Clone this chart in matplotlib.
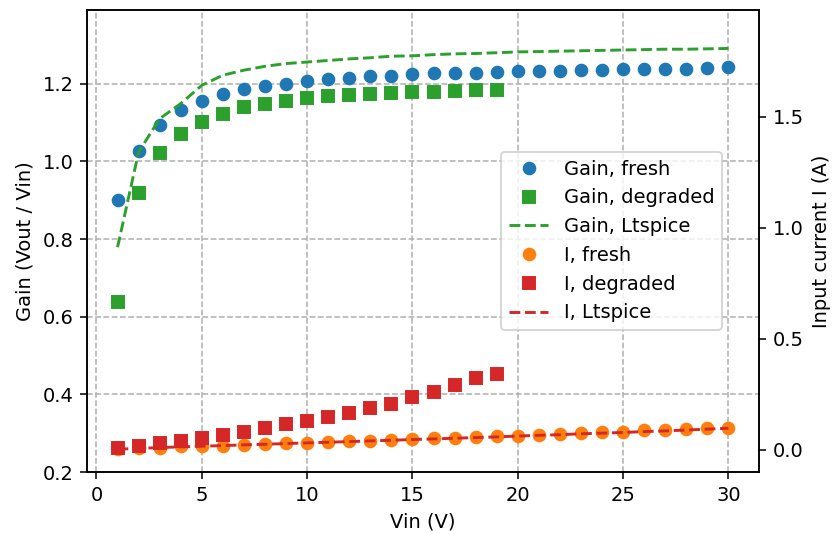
import matplotlib
matplotlib.use("Agg")
import matplotlib.pyplot as plt

vin = list(range(1, 31))
vin_deg = list(range(1, 20))

gain_fresh = [0.900, 1.028, 1.095, 1.133, 1.155, 1.173, 1.186, 1.193, 1.200, 1.207,
              1.211, 1.216, 1.219, 1.221, 1.224, 1.227, 1.229, 1.229, 1.230, 1.232,
              1.232, 1.233, 1.235, 1.236, 1.237, 1.237, 1.238, 1.239, 1.241, 1.242]
gain_deg = [0.637, 0.918, 1.021, 1.071, 1.101, 1.123, 1.140, 1.147, 1.155, 1.164,
            1.168, 1.172, 1.174, 1.177, 1.179, 1.180, 1.181, 1.183, 1.183]
gain_lt = [0.779, 1.024, 1.110, 1.149, 1.196, 1.222, 1.235, 1.245, 1.252, 1.256,
           1.260, 1.264, 1.267, 1.271, 1.272, 1.275, 1.277, 1.278, 1.280, 1.282,
           1.283, 1.284, 1.285, 1.286, 1.287, 1.288, 1.289, 1.289, 1.290, 1.291]

i_fresh = [0.003, 0.008, 0.010, 0.015, 0.015, 0.019, 0.023, 0.027, 0.030, 0.030,
           0.037, 0.041, 0.041, 0.045, 0.050, 0.053, 0.055, 0.058, 0.060, 0.064,
           0.068, 0.072, 0.075, 0.080, 0.082, 0.087, 0.090, 0.093, 0.096, 0.098]
i_deg = [0.008, 0.018, 0.030, 0.041, 0.053, 0.068, 0.078, 0.098, 0.116, 0.131,
         0.147, 0.165, 0.188, 0.207, 0.236, 0.260, 0.290, 0.323, 0.341]
i_lt = [0.003, 0.006, 0.010, 0.013, 0.016, 0.019, 0.022, 0.025, 0.028, 0.031,
        0.034, 0.037, 0.040, 0.043, 0.046, 0.049, 0.052, 0.055, 0.058, 0.062,
        0.065, 0.068, 0.072, 0.075, 0.078, 0.082, 0.085, 0.089, 0.093, 0.097]

fig = plt.figure(figsize=(833 / 140, 534 / 140), dpi=140)
ax = fig.add_axes([87 / 833, 1 - 472 / 534, (759 - 87) / 833, (472 - 10) / 534])
ax2 = ax.twinx()

h1, = ax.plot(vin, gain_fresh, 'o', color='#1f77b4', label='Gain, fresh')
h2, = ax.plot(vin_deg, gain_deg, 's', color='#2ca02c', label='Gain, degraded')
h3, = ax.plot(vin, gain_lt, '--', color='#2ca02c', label='Gain, Ltspice')

h4, = ax2.plot(vin, i_fresh, 'o', color='#ff7f0e', label='I, fresh')
h5, = ax2.plot(vin_deg, i_deg, 's', color='#d62728', label='I, degraded')
h6, = ax2.plot(vin, i_lt, '--', color='#d62728', label='I, Ltspice')

ax.set_ylim(0.2, 1.39)
ax2.set_ylim(-0.1, 1.98)
ax.set_xticks([0, 5, 10, 15, 20, 25, 30])
ax.set_yticks([0.2, 0.4, 0.6, 0.8, 1.0, 1.2])
ax2.set_yticks([0.0, 0.5, 1.0, 1.5])
ax.grid(True, linestyle='--')

ax.set_xlabel('Vin (V)')
ax.set_ylabel('Gain (Vout / Vin)')
ax2.set_ylabel('Input current I (A)')

ax2.legend(handles=[h1, h2, h3, h4, h5, h6], loc='center right',
           bbox_to_anchor=(0.945, 0.5), borderaxespad=0)

fig.savefig('out.png', dpi=140)
